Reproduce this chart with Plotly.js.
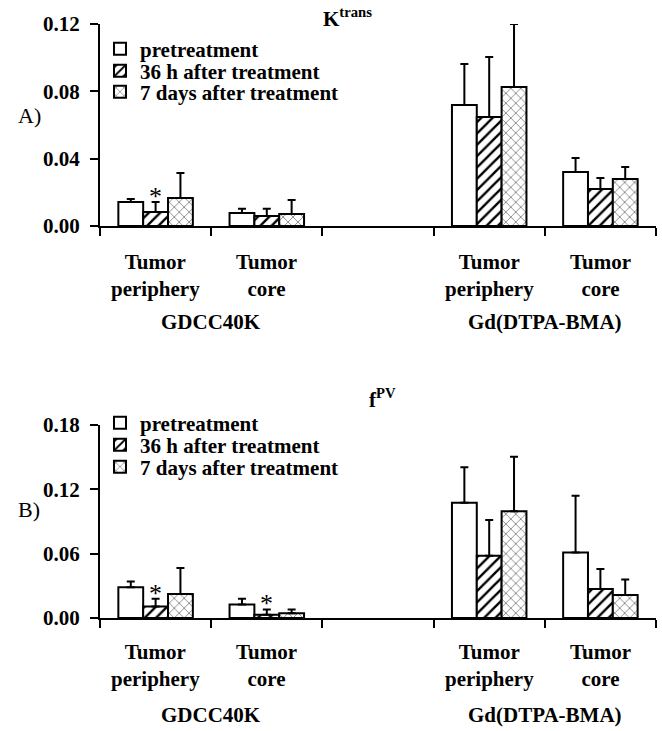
<!DOCTYPE html>
<html>
<head>
<meta charset="utf-8">
<script src="https://cdn.plot.ly/plotly-3.0.1.min.js"></script>
<style>html,body{margin:0;padding:0;background:#fff;}#chart{width:662px;height:731px;}</style>
</head>
<body>
<div id="chart"></div>
<script>
// ---- data ----
var catPos = [0, 1, 3, 4];
var catLabels = ["Tumor<br>periphery", "Tumor<br>core", "Tumor<br>periphery", "Tumor<br>core"];
var groupPos = [0.5, 3.5];
var groupLabels = ["GDCC40K", "Gd(DTPA-BMA)"];
var seriesNames = ["pretreatment", "36 h after treatment", "7 days after treatment"];
var boundaryTicks = [-0.5, 0.5, 1.5, 2.5, 3.5, 4.5];

var ktransPre = [0.0143, 0.0077, 0.0719, 0.0321];
var ktransPreErr = [0.0018, 0.0025, 0.0243, 0.0083];
var ktrans36 = [0.0083, 0.0060, 0.0648, 0.0220];
var ktrans36Err = [0.0060, 0.0042, 0.0356, 0.0065];
var ktrans7 = [0.0166, 0.0071, 0.0826, 0.0279];
var ktrans7Err = [0.0149, 0.0084, 0.0374, 0.0071];
var ktransTicks = [0, 0.04, 0.08, 0.12];
var ktransSig = [0]; // asterisk over 36 h bar at these category indices

var fpvPre = [0.0287, 0.0125, 0.1075, 0.0610];
var fpvPreErr = [0.0054, 0.0055, 0.0332, 0.0530];
var fpv36 = [0.0108, 0.0030, 0.0580, 0.0270];
var fpv36Err = [0.0071, 0.0050, 0.0334, 0.0187];
var fpv7 = [0.0224, 0.0045, 0.0995, 0.0215];
var fpv7Err = [0.0242, 0.0035, 0.0510, 0.0145];
var fpvTicks = [0, 0.06, 0.12, 0.18];
var fpvSig = [0, 1];

// ---- styling ----
var FONT = "Liberation Serif";
var H = 731;
function py(pix) { return 1 - pix / H; }
var zeros = [0, 0, 0, 0];
var patterns = [
  null,
  {shape: "/", fgcolor: "black", bgcolor: "white", size: 8, solidity: 0.3},
  {shape: "x", fgcolor: "black", bgcolor: "white", size: 7, solidity: 0.12}
];
var legendRowsA = [49, 71, 92];
var legendRowsB = [423, 445, 467];

function makeTraces(vals, errs, xa, ya, legBase) {
  return vals.map(function (v, i) {
    var m = {color: "white", line: {color: "black", width: 2}};
    if (patterns[i]) m.pattern = patterns[i];
    var n = legBase + i;
    return {
      type: "bar", x: catPos, y: v, name: seriesNames[i],
      xaxis: xa, yaxis: ya, legend: n === 1 ? "legend" : "legend" + n, marker: m,
      error_y: {type: "data", array: errs[i], arrayminus: zeros, symmetric: false,
                color: "black", thickness: 2, width: 4},
      hoverinfo: "skip"
    };
  });
}

var traces = makeTraces([ktransPre, ktrans36, ktrans7], [ktransPreErr, ktrans36Err, ktrans7Err], "x", "y", 1)
  .concat(makeTraces([fpvPre, fpv36, fpv7], [fpvPreErr, fpv36Err, fpv7Err], "x2", "y2", 4));

var xDom = [100 / 662, 656 / 662];
function xAxis(anchor) {
  return {domain: xDom, anchor: anchor, range: [-0.5, 4.5], tickmode: "array",
    tickvals: boundaryTicks, showticklabels: false,
    ticks: "outside", ticklen: 8, tickwidth: 2, tickcolor: "black",
    showline: true, linecolor: "black", linewidth: 2, showgrid: false, zeroline: false,
    fixedrange: true};
}
function yAxis(anchor, dom, ticks) {
  return {domain: dom, anchor: anchor, range: [0, ticks[ticks.length - 1]], tickmode: "array",
    tickvals: ticks, tickformat: ".2f", ticks: "outside", ticklen: 8, tickwidth: 2, tickcolor: "black",
    showline: true, linecolor: "black", linewidth: 2, showgrid: false, zeroline: false,
    tickfont: {family: FONT, size: 21, color: "black", weight: "bold"}, ticklabelstandoff: 6,
    fixedrange: true};
}

var annotations = [];
function addCatLabels(xref, yPix, groupYPix) {
  catPos.forEach(function (p, i) {
    annotations.push({xref: xref, yref: "paper", x: p, y: py(yPix), yanchor: "top", xanchor: "center",
      text: catLabels[i], showarrow: false, font: {family: FONT, size: 21, color: "black", weight: "bold"}});
  });
  groupPos.forEach(function (p, i) {
    annotations.push({xref: xref, yref: "paper", x: p, y: py(groupYPix), yanchor: "middle", xanchor: "center",
      text: groupLabels[i], showarrow: false, font: {family: FONT, size: 21, color: "black", weight: "bold"}});
  });
}
addCatLabels("x", 248, 322);
addCatLabels("x2", 638, 715);

function addSig(xref, yref, sig, vals, errs) {
  sig.forEach(function (idx) {
    annotations.push({xref: xref, yref: yref, x: catPos[idx], y: vals[idx] + errs[idx],
      yanchor: "bottom", xanchor: "center", yshift: -11, text: "*", showarrow: false,
      font: {family: FONT, size: 26, color: "black"}});
  });
}
addSig("x", "y", ktransSig, ktrans36, ktrans36Err);
addSig("x2", "y2", fpvSig, fpv36, fpv36Err);

annotations.push({xref: "paper", yref: "paper", x: 16 / 662, y: py(116), xanchor: "left", yanchor: "middle",
  text: "A)", showarrow: false, font: {family: FONT, size: 22, color: "black"}});
annotations.push({xref: "paper", yref: "paper", x: 16 / 662, y: py(509), xanchor: "left", yanchor: "middle",
  text: "B)", showarrow: false, font: {family: FONT, size: 22, color: "black"}});
annotations.push({xref: "paper", yref: "paper", x: 348 / 662, y: py(18), xanchor: "center", yanchor: "middle",
  text: "K<sup>trans</sup>", showarrow: false, font: {family: FONT, size: 21, color: "black", weight: "bold"}});
annotations.push({xref: "paper", yref: "paper", x: 382 / 662, y: py(398), xanchor: "center", yanchor: "middle",
  text: "f<sup>PV</sup>", showarrow: false, font: {family: FONT, size: 21, color: "black", weight: "bold"}});

var legFont = {family: FONT, size: 21, color: "black", weight: "bold"};
function legendAt(rowPix) {
  return {x: 100 / 662, y: py(rowPix), xanchor: "left", yanchor: "middle", font: legFont,
    bgcolor: "rgba(0,0,0,0)", itemwidth: 30, tracegroupgap: 0};
}
var layout = {
  width: 662, height: 731,
  margin: {l: 0, r: 0, t: 0, b: 0},
  paper_bgcolor: "white", plot_bgcolor: "white",
  barmode: "group", bargap: 0.33, bargroupgap: 0,
  showlegend: true,
  xaxis: xAxis("y"),
  yaxis: yAxis("x", [py(226), py(24)], ktransTicks),
  xaxis2: xAxis("y2"),
  yaxis2: yAxis("x2", [py(618), py(425)], fpvTicks),
  legend: legendAt(legendRowsA[0]),
  legend2: legendAt(legendRowsA[1]),
  legend3: legendAt(legendRowsA[2]),
  legend4: legendAt(legendRowsB[0]),
  legend5: legendAt(legendRowsB[1]),
  legend6: legendAt(legendRowsB[2]),
  annotations: annotations
};

Plotly.newPlot("chart", traces, layout, {displayModeBar: false, staticPlot: true});
</script>
</body>
</html>
